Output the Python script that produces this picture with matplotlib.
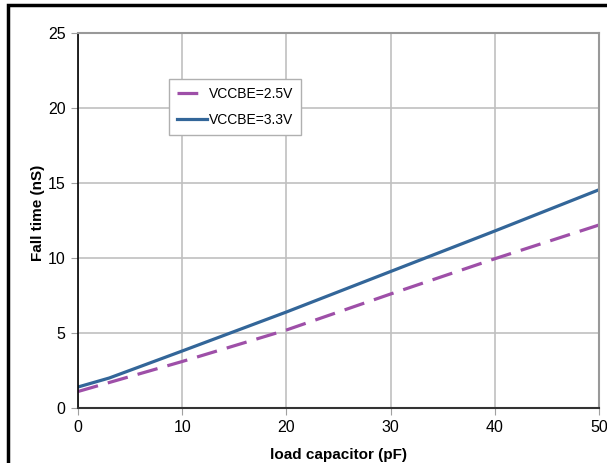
import matplotlib
matplotlib.use("Agg")
import matplotlib.pyplot as plt
from matplotlib.patches import Rectangle

x_vals = [0, 3, 10, 20, 30, 40, 50]
fall_25 = [1.1, 1.7, 3.1, 5.2, 7.6, 9.95, 12.2]
fall_33 = [1.4, 2.0, 3.8, 6.4, 9.1, 11.8, 14.55]
x_ticks = [0, 10, 20, 30, 40, 50]
y_ticks = [0, 5, 10, 15, 20, 25]
labels = ["VCCBE=2.5V", "VCCBE=3.3V"]

plt.rcParams['font.family'] = ['Liberation Sans', 'DejaVu Sans']

fig = plt.figure(figsize=(6.07, 4.63), dpi=100)
ax = fig.add_axes([78/607, 1-408/463, (599-78)/607, (408-33)/463])

purple = '#9E4FA8'
blue = '#336699'
l1, = ax.plot(x_vals, fall_25, color=purple, lw=2.3, dashes=(6.5, 3.2), solid_capstyle='butt')
l2, = ax.plot(x_vals, fall_33, color=blue, lw=2.3)

ax.set_xlim(0, 50)
ax.set_ylim(0, 25)
ax.set_xticks(x_ticks)
ax.set_yticks(y_ticks)
ax.grid(True, color='#c0c0c0', lw=1.2)
ax.set_axisbelow(True)
ax.tick_params(axis='both', direction='out', length=5, color='#a0a0a0', labelsize=11.5, pad=4)
for s in ['top', 'right']:
    ax.spines[s].set_color('#999999')
    ax.spines[s].set_linewidth(1.5)
ax.spines['left'].set_color('#000000')
ax.spines['left'].set_linewidth(1.2)
ax.spines['bottom'].set_color('#333333')
ax.spines['bottom'].set_linewidth(1.5)

ax.set_xlabel('load capacitor (pF)', fontsize=11, fontweight='bold', labelpad=9)
ax.set_ylabel('Fall time (nS)', fontsize=11, fontweight='bold', labelpad=8)
ax.yaxis.set_label_coords(-0.064, 0.52)

leg = ax.legend([l1, l2], labels, loc='upper left', bbox_to_anchor=((169-78)/521, (408-79)/375),
                frameon=True, fancybox=False, edgecolor='#b0b0b0', framealpha=1,
                fontsize=10, handlelength=2.1, labelspacing=0.85, borderpad=0.6,
                handletextpad=0.15, borderaxespad=0)
leg.get_frame().set_linewidth(1.0)

fig.patches.append(Rectangle((8/607, -0.1), 1.2, 1-5/463+0.1, transform=fig.transFigure,
                             fill=False, edgecolor='black', lw=2.5, figure=fig))

fig.savefig('out.png', dpi=100)
